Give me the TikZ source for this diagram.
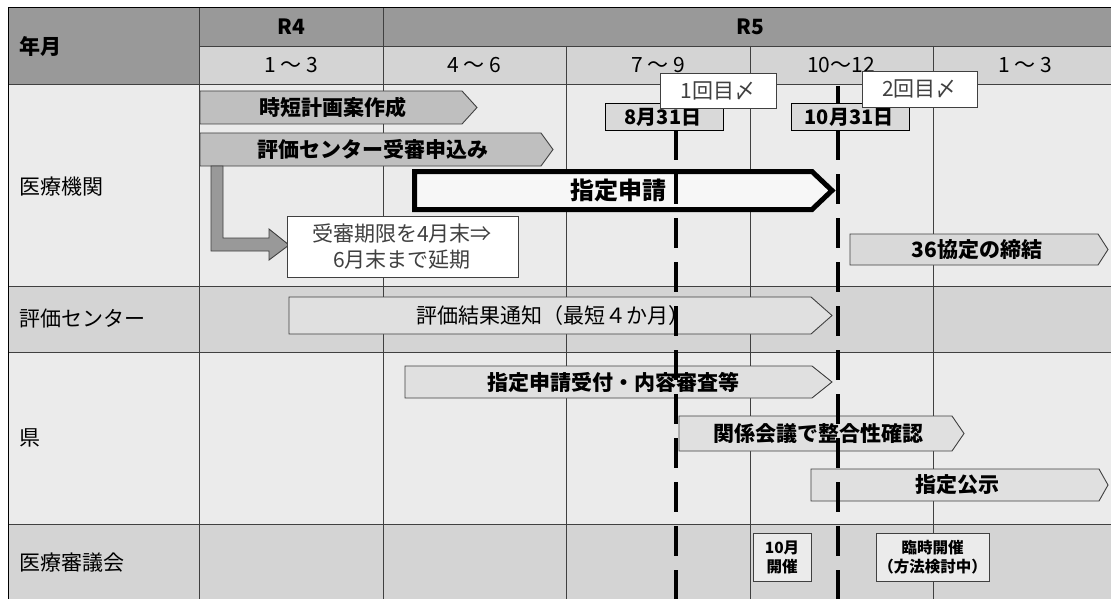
\documentclass[tikz,border=0pt]{standalone}
\usepackage{fontspec}
\setmainfont{Noto Sans CJK JP}

\begin{document}
\begin{tikzpicture}[x=1pt,y=-1pt,
    gridline/.style={draw=black!75,line width=0.9pt},
    rowlabel/.style={anchor=west,inner sep=0pt,font=\fontsize{21}{25}\selectfont},
    hdrtext/.style={inner sep=0pt,font=\fontsize{21}{25}\selectfont},
    bar/.style={draw=black!75,line width=0.9pt,line join=miter},
    bartext/.style={inner sep=0pt,font=\bfseries\fontsize{21}{25}\selectfont},
    notetext/.style={inner sep=0pt,text=black!75,font=\fontsize{21}{25}\selectfont},
    smalltext/.style={inner sep=0pt,align=center,font=\bfseries\fontsize{15.5}{19}\selectfont},
    deadline/.style={line width=4pt,dash pattern=on 30pt off 14pt}]

    \useasboundingbox (0,0) rectangle (1111,599);

    % row backgrounds
    \fill[black!40] (8,8) rectangle (1117,46);
    \fill[black!40] (8,8) rectangle (199,84);
    \fill[black!17] (199,46) rectangle (1117,84);
    \fill[black!8] (8,84) rectangle (1117,286);
    \fill[black!17] (8,286) rectangle (1117,352);
    \fill[black!8] (8,352) rectangle (1117,524);
    \fill[black!17] (8,524) rectangle (1117,610);

    % grid
    \foreach \y in {84,286,352,524}
        \draw[gridline] (8,\y) -- (1117,\y);
    \draw[gridline] (199,46) -- (1117,46);
    \foreach \x in {199,383}
        \draw[gridline] (\x,8) -- (\x,610);
    \foreach \x in {566,750,933}
        \draw[gridline] (\x,46) -- (\x,610);
    \draw[black,line width=1pt] (8,610) -- (8,8) -- (1117,8);

    % headers and row labels
    \begin{scope}[every node/.style={hdrtext}]
        \node[font=\bfseries\fontsize{21}{25}\selectfont] (yrA) at (291,27) {R4};
        \node[font=\bfseries\fontsize{21}{25}\selectfont] (yrB) at (750,27) {R5};
        \node (qa) at (291,65) {1 ～ 3};
        \node (qb) at (474,65) {4 ～ 6};
        \node (qc) at (658,65) {7 ～ 9};
        \node (qd) at (841,65) {10～12};
        \node (qe) at (1025,65) {1 ～ 3};
    \end{scope}

    \begin{scope}[every node/.style={rowlabel}]
        \node[font=\bfseries\fontsize{21}{25}\selectfont] (ym) at (19,46) {年月};
        \node (org) at (19,187) {医療機関};
        \node (center) at (19,319) {評価センター};
        \node (pref) at (19,438) {県};
        \node (council) at (19,563) {医療審議会};
    \end{scope}

    % bars: medical institutions
    \filldraw[bar,fill=black!25] (200,91) -- (462,91) -- (477,107.5) -- (462,124) -- (200,124) -- cycle;
    \node[bartext] (plan) at (333,107.5) {時短計画案作成};
    \filldraw[bar,fill=black!25] (200,133) -- (541,133) -- (553,149.5) -- (541,166) -- (200,166) -- cycle;
    \node[bartext] (entry) at (373,149.5) {評価センター受審申込み};
    \filldraw[black,fill=black!3,line width=5pt,line join=miter]
        (414.5,171.5) -- (812,171.5) -- (832,190.5) -- (812,209.5) -- (414.5,209.5) -- cycle;
    \node[bartext,font=\bfseries\fontsize{24}{28}\selectfont] (apply) at (618,190.5) {指定申請};

    \filldraw[bar,fill=black!40] (211,166) -- (223,166) -- (223,238) -- (269,238) -- (269,229)
        -- (289,245) -- (269,260) -- (269,251) -- (211,251) -- cycle;
    \filldraw[bar,fill=white] (287,216) rectangle (518,277);
    \node[notetext,align=center] (extend) at (402,246.5) {受審期限を4月末⇒\\[1pt]6月末まで延期};

    \filldraw[bar,fill=black!15] (850,234) -- (1098,234) -- (1108,249.5) -- (1098,265) -- (850,265) -- cycle;
    \node[bartext] (agree) at (977,249.5) {36協定の締結};

    % bars: center and prefecture
    \filldraw[bar,fill=black!12] (289,297) -- (811,297) -- (832,315.5) -- (811,334) -- (289,334) -- cycle;
    \node[notetext,text=black] (notify) at (553,315.5) {評価結果通知（最短４か月）};
    \filldraw[bar,fill=black!12] (405,366) -- (812,366) -- (832,382) -- (812,398) -- (405,398) -- cycle;
    \node[bartext] (accept) at (613,382) {指定申請受付・内容審査等};
    \filldraw[bar,fill=black!12] (679,416) -- (952,416) -- (964,433.5) -- (952,451) -- (679,451) -- cycle;
    \node[bartext] (check) at (818,433.5) {関係会議で整合性確認};
    \filldraw[bar,fill=black!12] (811,469) -- (1099,469) -- (1108,485) -- (1099,501) -- (811,501) -- cycle;
    \node[bartext] (notice) at (957,485) {指定公示};

    % deadlines
    \draw[deadline] (676,130) -- (676,610);
    \draw[deadline] (838,86) -- (838,610);

    \filldraw[bar,draw=black,fill=black!15] (605,103) rectangle (723,130);
    \node[bartext,font=\bfseries\fontsize{20}{24}\selectfont] (dueA) at (663,117) {8月31日};
    \filldraw[bar,draw=black,fill=black!15] (791,103) rectangle (909,130);
    \node[bartext,font=\bfseries\fontsize{20}{24}\selectfont] (dueB) at (849,117) {10月31日};
    \filldraw[bar,fill=white] (660,73) rectangle (776,108);
    \node[notetext] (roundA) at (718,90.5) {1回目〆};
    \filldraw[bar,fill=white] (862,71) rectangle (977,107);
    \node[notetext] (roundB) at (919.5,89) {2回目〆};

    % council meetings
    \filldraw[bar,fill=black!8] (753,533) rectangle (811,581);
    \node[smalltext] (meetA) at (782,557) {10月\\開催};
    \filldraw[bar,fill=black!8] (876,533) rectangle (989,581);
    \node[smalltext] (meetB) at (932.5,557) {臨時開催\\（方法検討中）};
\end{tikzpicture}
\end{document}
